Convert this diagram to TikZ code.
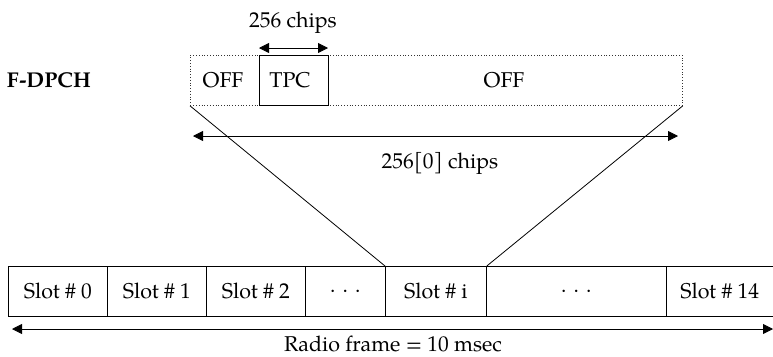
\documentclass[tikz,border=0pt]{standalone}
\usepackage{fontspec}
\setmainfont{TeX Gyre Pagella}
\usetikzlibrary{arrows.meta}
\begin{document}
\begin{tikzpicture}[x=1bp,y=-1bp,
  font=\fontsize{21.5}{26}\selectfont,
  box/.style={draw, line width=0.8bp, inner sep=0pt, anchor=north west, minimum height=50bp},
  dbl/.style={line width=0.8bp, {Triangle[length=10bp,width=10bp]}-{Triangle[length=10bp,width=10bp]}},
  lbl/.style={inner sep=0pt, anchor=base}]
\useasboundingbox (0,0) rectangle (773,356);
% F-DPCH slot
\node[box, draw=black!80, dotted, minimum width=492bp] (dp) at (190,55) {};
\node[box, minimum width=69bp] (tpc) at (259,55) {};
\node[lbl] (tpct) at (290,87) {TPC};
\node[lbl] (off1) at (223,87) {OFF};
\node[lbl] (off2) at (504,87) {OFF};
\node[lbl, font=\fontsize{21.5}{26}\selectfont\bfseries] (name) at (49,87) {F-DPCH};
% 256 chips
\node[lbl] (c256) at (293,27) {256 chips};
\coordinate (a1) at (259,48);
\coordinate (a2) at (328,48);
\draw[dbl] (a1) -- (a2);
% 2560 chips
\coordinate (b1) at (193,136);
\coordinate (b2) at (678,136);
\draw[dbl] (b1) -- (b2);
\node[lbl] (c2560) at (440,168) {256[0] chips};
% slots
\node[box, minimum width=99bp] (s0) at (8,266) {Slot \# 0};
\node[box, minimum width=99bp] (s1) at (107,266) {Slot \# 1};
\node[box, minimum width=99bp] (s2) at (206,266) {Slot \# 2};
\node[box, minimum width=80bp] (s3) at (305,266) {.\,\,.\,\,.};
\node[box, minimum width=101bp] (si) at (385,266) {Slot \# i};
\node[box, minimum width=180bp] (s5) at (486,266) {.\,\,.\,\,.};
\node[box, minimum width=106.6bp] (s14) at (666,266) {Slot \# 14};
% zoom lines
\draw[line width=0.8bp] (dp.south west) -- (si.north west);
\draw[line width=0.8bp] (dp.south east) -- (si.north east);
% radio frame
\coordinate (r1) at (12,329);
\coordinate (r2) at (773,329);
\draw[dbl] (r1) -- (r2);
\node[lbl] (rf) at (393,351) {Radio frame = 10 msec};
\end{tikzpicture}
\end{document}
